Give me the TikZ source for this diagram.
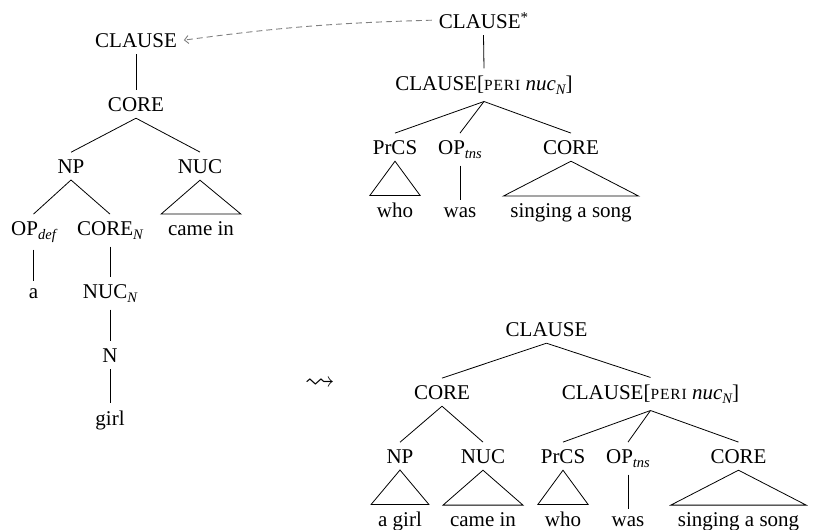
\documentclass[tikz,border=0pt]{standalone}
\usepackage{fontspec}
\setmainfont{Liberation Serif}
\usepackage{amssymb}
\usetikzlibrary{arrows.meta}

% italic subscript used in category labels (OP_def, CORE_N, ...)
\newcommand\lsub[1]{\raisebox{-4.5pt}{\fontsize{14.5}{14.5}\selectfont\itshape #1}}
% small raised asterisk
\newcommand\lstar{\raisebox{6pt}{\fontsize{15}{15}\selectfont *}}
% small-capital PERI feature
\newcommand\peri{{\fontsize{15.5}{15.5}\selectfont\addfontfeatures{LetterSpace=6}PERI}}
% periphery clause label
\newcommand\perinuc{CLAUSE[\peri\ \textit{nuc}\lsub{N}]}

\begin{document}
\begin{tikzpicture}[x=1pt,y=-1pt,
  lab/.style={font=\fontsize{21}{24}\selectfont, anchor=base,
    inner xsep=7pt, inner ysep=7pt, outer sep=0pt},
  branch/.style={draw, line width=0.8pt, line join=miter},
  link/.style={draw=gray, line width=0.9pt, dash pattern=on 6pt off 4pt,
    -{Straight Barb[length=4pt,width=8pt]}}]
\useasboundingbox (0,0) rectangle (814,530);

% ---- left tree: the matrix clause ----
\node[lab] (lcl)    at (136,47)   {CLAUSE};
\node[lab] (lco)    at (136,111)  {CORE};
\node[lab] (lnp)    at (71,173)   {NP};
\node[lab] (lnuc)   at (200,173)  {NUC};
\node[lab] (lop)    at (33.5,235) {OP\lsub{def}};
\node[lab] (lcoren) at (110,235)  {CORE\lsub{N}};
\node[lab] (lcame)  at (201,235)  {came in};
\node[lab] (la)     at (33.5,298) {a};
\node[lab] (lnucn)  at (110,298)  {NUC\lsub{N}};
\node[lab] (ln)     at (110,362)  {N};
\node[lab] (lgirl)  at (110,425)  {girl};

\draw[branch] (lcl.south) -- (lco.north);
\draw[branch] (lco.south) -- (lnp.north);
\draw[branch] (lco.south) -- (lnuc.north);
\draw[branch] (lnp.south) -- (lop.north);
\draw[branch] (lnp.south) -- (lcoren.north);
\draw[branch] (lnuc.south) -- (lcame.north west) -- (lcame.north east) -- cycle;
\draw[branch] (lop.south) -- (la.north);
\draw[branch] (lcoren.south) -- (lnucn.north);
\draw[branch] (lnucn.south) -- (ln.north);
\draw[branch] (ln.south) -- (lgirl.north);

% ---- upper right tree: the relative clause ----
\node[lab] (rcs)   at (483.5,28) {CLAUSE\lstar};
\node[lab] (rcp)   at (484,90)   {\perinuc};
\node[lab] (rpr)   at (395,154)  {PrCS};
\node[lab] (rop)   at (460,154)  {OP\lsub{tns}};
\node[lab] (rco)   at (571,154)  {CORE};
\node[lab] (rwho)  at (395,217)  {who};
\node[lab] (rwas)  at (460,217)  {was};
\node[lab] (rsing) at (571,217)  {singing a song};

\draw[branch] (rcs.south) -- (rcp.north);
\draw[branch] (rcp.south) -- (rpr.north);
\draw[branch] (rcp.south) -- (rop.north);
\draw[branch] (rcp.south) -- (rco.north);
\draw[branch] (rpr.south) -- (rwho.north west) -- (rwho.north east) -- cycle;
\draw[branch] (rop.south) -- (rwas.north);
\draw[branch] (rco.south) -- (rsing.north west) -- (rsing.north east) -- cycle;

% attachment link
\draw[link] (rcs.west) to[bend right=3] (lcl.east);

% ---- derivation arrow ----
\node[font=\fontsize{20.74}{20.74}\selectfont, inner sep=0pt] (arr) at (320,384)
  {\scalebox{1.45}{$\leadsto$}};

% ---- lower right tree: the combined structure ----
\node[lab] (bcl)   at (546.5,336) {CLAUSE};
\node[lab] (bco)   at (442,399)   {CORE};
\node[lab] (bcp)   at (650.5,399) {\perinuc};
\node[lab] (bnp)   at (400,463)   {NP};
\node[lab] (bnuc)  at (483,463)   {NUC};
\node[lab] (bpr)   at (563,463)   {PrCS};
\node[lab] (bop)   at (628,463)   {OP\lsub{tns}};
\node[lab] (bcore) at (738.5,463) {CORE};
\node[lab] (bgirl) at (400,526)   {a girl};
\node[lab] (bcame) at (483,526)   {came in};
\node[lab] (bwho)  at (563,526)   {who};
\node[lab] (bwas)  at (628,526)   {was};
\node[lab] (bsing) at (738.5,526) {singing a song};

\draw[branch] (bcl.south) -- (bco.north);
\draw[branch] (bcl.south) -- (bcp.north);
\draw[branch] (bco.south) -- (bnp.north);
\draw[branch] (bco.south) -- (bnuc.north);
\draw[branch] (bcp.south) -- (bpr.north);
\draw[branch] (bcp.south) -- (bop.north);
\draw[branch] (bcp.south) -- (bcore.north);
\draw[branch] (bnp.south) -- (bgirl.north west) -- (bgirl.north east) -- cycle;
\draw[branch] (bnuc.south) -- (bcame.north west) -- (bcame.north east) -- cycle;
\draw[branch] (bpr.south) -- (bwho.north west) -- (bwho.north east) -- cycle;
\draw[branch] (bop.south) -- (bwas.north);
\draw[branch] (bcore.south) -- (bsing.north west) -- (bsing.north east) -- cycle;
\end{tikzpicture}
\end{document}
